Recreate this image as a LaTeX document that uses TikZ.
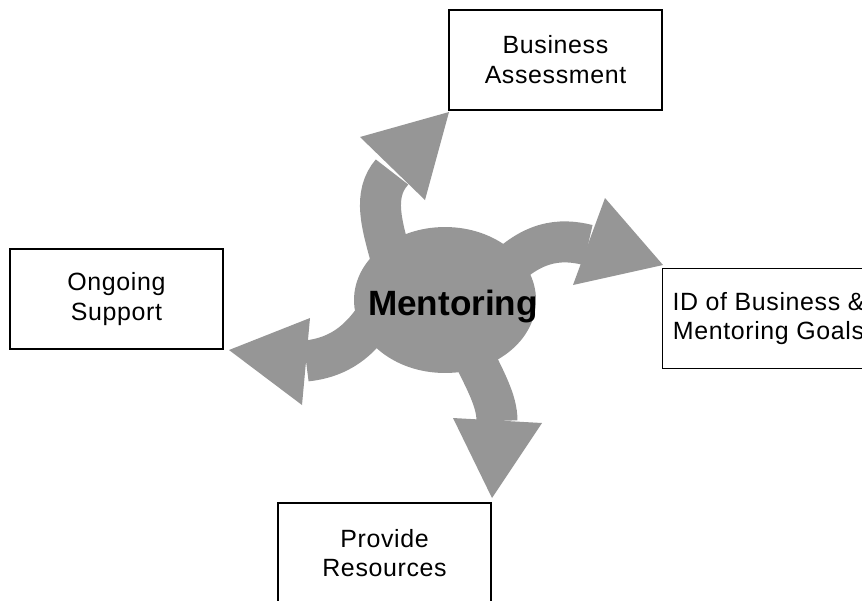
\documentclass[tikz,border=0pt]{standalone}
\usepackage{fontspec}
\setmainfont{Liberation Sans}
\definecolor{mentorgray}{RGB}{150,150,150}
\tikzset{
	goalbox/.style={draw, line width=0.6pt, minimum width=4.26cm, minimum height=2cm, align=center, font=\fontsize{14.2}{17}\selectfont\addfontfeature{LetterSpace=2.5}},
	shaft/.style={draw=mentorgray, line width=0.82cm},
	head/.style={fill=mentorgray}
}
\begin{document}
\begin{tikzpicture}[x=0.02cm,y=-0.02cm]
			\useasboundingbox (0,0) rectangle (862,600);
			\clip (0,0) rectangle (862,600);
			% up
			\draw[shaft] (392,262) .. controls (382,225) and (372,195) .. (392,172);
			\fill[head] (449,112) -- (360,137) -- (425,200) -- cycle;
			% right
			\draw[shaft] (495,280) .. controls (530,240) and (560,238) .. (588,245);
			\fill[head] (663,265) -- (605,198) -- (573,285) -- cycle;
			% left
			\draw[shaft] (372,322) .. controls (355,345) and (335,358) .. (306,361);
			\fill[head] (229,350) -- (310,318) -- (302,405) -- cycle;
			% down
			\draw[shaft] (468,345) .. controls (485,380) and (497,400) .. (497,421);
			\fill[head] (492,498) -- (453,418) -- (542,423) -- cycle;
			\fill[mentorgray] (445,300) ellipse [x radius=1.82cm, y radius=1.46cm];
			\node[anchor=base, font=\bfseries\fontsize{20}{24}\selectfont] (ment) at (453,315) {Mentoring};
			\node[goalbox] (assess) at (555.5,60) {Business\\Assessment};
			\node[goalbox] (goals) at (768.5,318.5) {ID of Business \&\\Mentoring Goals};
			\node[goalbox] (support) at (116.5,299) {Ongoing\\Support};
			\node[goalbox] (resources) at (384.5,553) {Provide\\Resources};
\end{tikzpicture}
\end{document}
